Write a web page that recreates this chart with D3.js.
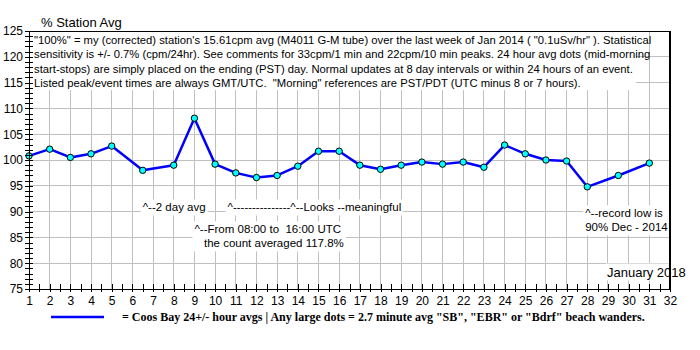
<!DOCTYPE html>
<html><head><meta charset="utf-8">
<script src="https://cdn.jsdelivr.net/npm/d3@7"></script>
<style>
body{margin:0;background:#fff;}
svg text{white-space:pre;}
</style>
</head><body>
<svg id="c" width="700" height="350"></svg>
<script>
const days = [1,2,3,4,5,6.5,8,9,10,11,12,13,14,15,16,17,18,19,20,21,22,23,24,25,26,27,28,29.5,31];
const values = [100.8,102.1,100.5,101.2,102.7,98.0,99.0,108.1,99.2,97.5,96.6,97.0,98.8,101.7,101.7,99.0,98.2,99.0,99.6,99.2,99.6,98.6,102.9,101.2,100.0,99.8,94.8,97.0,99.4];
const xTicks = d3.range(1,33);
const yTicks = [75,80,85,90,95,100,105,110,115,120,125];
const noteLines = [
 '"100%" = my (corrected) station\'s 15.61cpm avg (M4011 G-M tube) over the last week of Jan 2014 ( "0.1uSv/hr" ). Statistical',
 'sensitivity is +/- 0.7% (cpm/24hr). See comments for 33cpm/1 min and 22cpm/10 min peaks. 24 hour avg dots (mid-morning',
 'start-stops) are simply placed on the ending (PST) day. Normal updates at 8 day intervals or within 24 hours of an event.',
 'Listed peak/event times are always GMT/UTC.  "Morning" references are PST/PDT (UTC minus 8 or 7 hours).'
];
const annotations = [
 {d:6.5, v:90.8, lines:['^--2 day avg']},
 {d:10.6, v:90.8, lines:['^---------------^--Looks --meaningful']},
 {d:9.0, v:86.6, lines:['^--From 08:00 to  16:00 UTC','   the count averaged 117.8%']},
 {d:27.9, v:89.7, lines:['^--record low is','90% Dec - 2014']}
];
const titleText = '% Station Avg';
const monthText = 'January 2018';
const legendText = '= Coos Bay 24+/- hour avgs | Any large dots = 2.7 minute avg "SB", "EBR" or "Bdrf" beach wanders.';

const svg = d3.select('#c');
const L=29, R=670, T=31, B=289;
const x = d3.scaleLinear().domain([1,32]).range([L,R]);
const y = d3.scaleLinear().domain([75,125]).range([B,T]);
const sans = 'Arial, "Liberation Sans", sans-serif';

// grid
const g = svg.append('g');
g.selectAll('line.v').data(xTicks.slice(1,-1)).join('line')
 .attr('x1',d=>x(d)).attr('x2',d=>x(d)).attr('y1',T).attr('y2',B)
 .attr('stroke','#c0c0c0').attr('stroke-width',1).attr('shape-rendering','crispEdges');
g.selectAll('line.h').data(yTicks.slice(1,-1)).join('line')
 .attr('x1',L).attr('x2',R).attr('y1',d=>y(d)).attr('y2',d=>y(d))
 .attr('stroke','#c0c0c0').attr('stroke-width',1).attr('shape-rendering','crispEdges');

// helper: text with white background
function boxedText(lines, x0, y0, size, lh, family, weight, pad){
  const grp = svg.append('g');
  const rect = grp.append('rect').attr('fill','#fff');
  const t = grp.append('text').attr('font-family',family).attr('font-size',size)
    .attr('font-weight',weight||'normal').attr('fill','#000');
  lines.forEach((s,i)=>t.append('tspan').attr('x',x0).attr('y',y0+i*lh).attr('dy','0.35em').text(s));
  const bb = t.node().getBBox();
  rect.attr('x',bb.x-pad).attr('y',bb.y-pad).attr('width',bb.width+2*pad).attr('height',bb.height+2*pad);
  return grp;
}

// top note box
{
  const grp = svg.append('g');
  grp.append('rect').attr('x',L).attr('y',T).attr('width',607).attr('height',59).attr('fill','#fff');
  const t = grp.append('text').attr('font-family',sans).attr('font-size',11.25).attr('fill','#000');
  noteLines.forEach((s,i)=>t.append('tspan').attr('x',34).attr('y',40+i*14.3).attr('dy','0.35em').text(s));
}

// annotations
annotations.forEach(a=>{
  boxedText(a.lines, x(a.d), y(a.v), 11.5, 14.3, sans, 'normal', 2);
});

// month label
boxedText([monthText], 607, 272, 13, 15, sans, 'normal', 1);

// line + dots
const pts = days.map((d,i)=>[d,values[i]]);
svg.append('path').datum(pts)
 .attr('d', d3.line().x(d=>x(d[0])).y(d=>y(d[1])))
 .attr('fill','none').attr('stroke','#0000ff').attr('stroke-width',2.5).attr('stroke-linejoin','round');
svg.selectAll('circle.dot').data(pts).join('circle')
 .attr('cx',d=>x(d[0])).attr('cy',d=>y(d[1])).attr('r',3.2)
 .attr('fill','#00ffff').attr('stroke','#000').attr('stroke-width',1);

// frame
svg.append('line').attr('x1',L).attr('x2',R).attr('y1',T).attr('y2',T).attr('stroke','#000').attr('shape-rendering','crispEdges');
svg.append('line').attr('x1',R).attr('x2',R).attr('y1',T).attr('y2',B).attr('stroke','#000').attr('stroke-width',1.5).attr('shape-rendering','crispEdges');

// axes
const xAxis = d3.axisBottom(x).tickValues(d3.range(1,32.01,0.5)).tickSize(0).tickFormat('');
const xa = svg.append('g').attr('transform',`translate(0,${B})`).call(xAxis);
xa.select('.domain').attr('stroke','#000').attr('shape-rendering','crispEdges');
xa.selectAll('.tick line').attr('y1',-5).attr('y2',3).attr('stroke','#000').attr('shape-rendering','crispEdges');
const xl = svg.append('g').attr('transform',`translate(0,${B})`).call(d3.axisBottom(x).tickValues(xTicks).tickSize(0).tickPadding(7));
xl.select('.domain').remove();
xl.selectAll('text').attr('font-family',sans).attr('font-size',12).attr('fill','#000');

const yAxis = d3.axisLeft(y).tickValues(d3.range(75,125.01,1)).tickSize(0).tickFormat('');
const ya = svg.append('g').attr('transform',`translate(${L},0)`).call(yAxis);
ya.select('.domain').attr('stroke','#000').attr('shape-rendering','crispEdges');
ya.selectAll('.tick line').attr('x1',-4).attr('x2',4).attr('stroke','#000').attr('shape-rendering','crispEdges');
const yl = svg.append('g').attr('transform',`translate(${L},0)`).call(d3.axisLeft(y).tickValues(yTicks).tickSize(0).tickPadding(6));
yl.select('.domain').remove();
yl.selectAll('text').attr('font-family',sans).attr('font-size',12).attr('fill','#000');

// title
svg.append('text').attr('x',41).attr('y',22).attr('dy','0.35em').attr('font-family',sans).attr('font-size',13).text(titleText);

// legend
svg.append('line').attr('x1',51).attr('x2',104).attr('y1',317).attr('y2',317).attr('stroke','#0000ff').attr('stroke-width',2.5);
svg.append('text').attr('x',122).attr('y',317).attr('dy','0.35em')
 .attr('font-family','"Times New Roman", "Liberation Serif", serif').attr('font-weight','bold').attr('font-size',12)
 .text(legendText);
</script>
</body></html>
